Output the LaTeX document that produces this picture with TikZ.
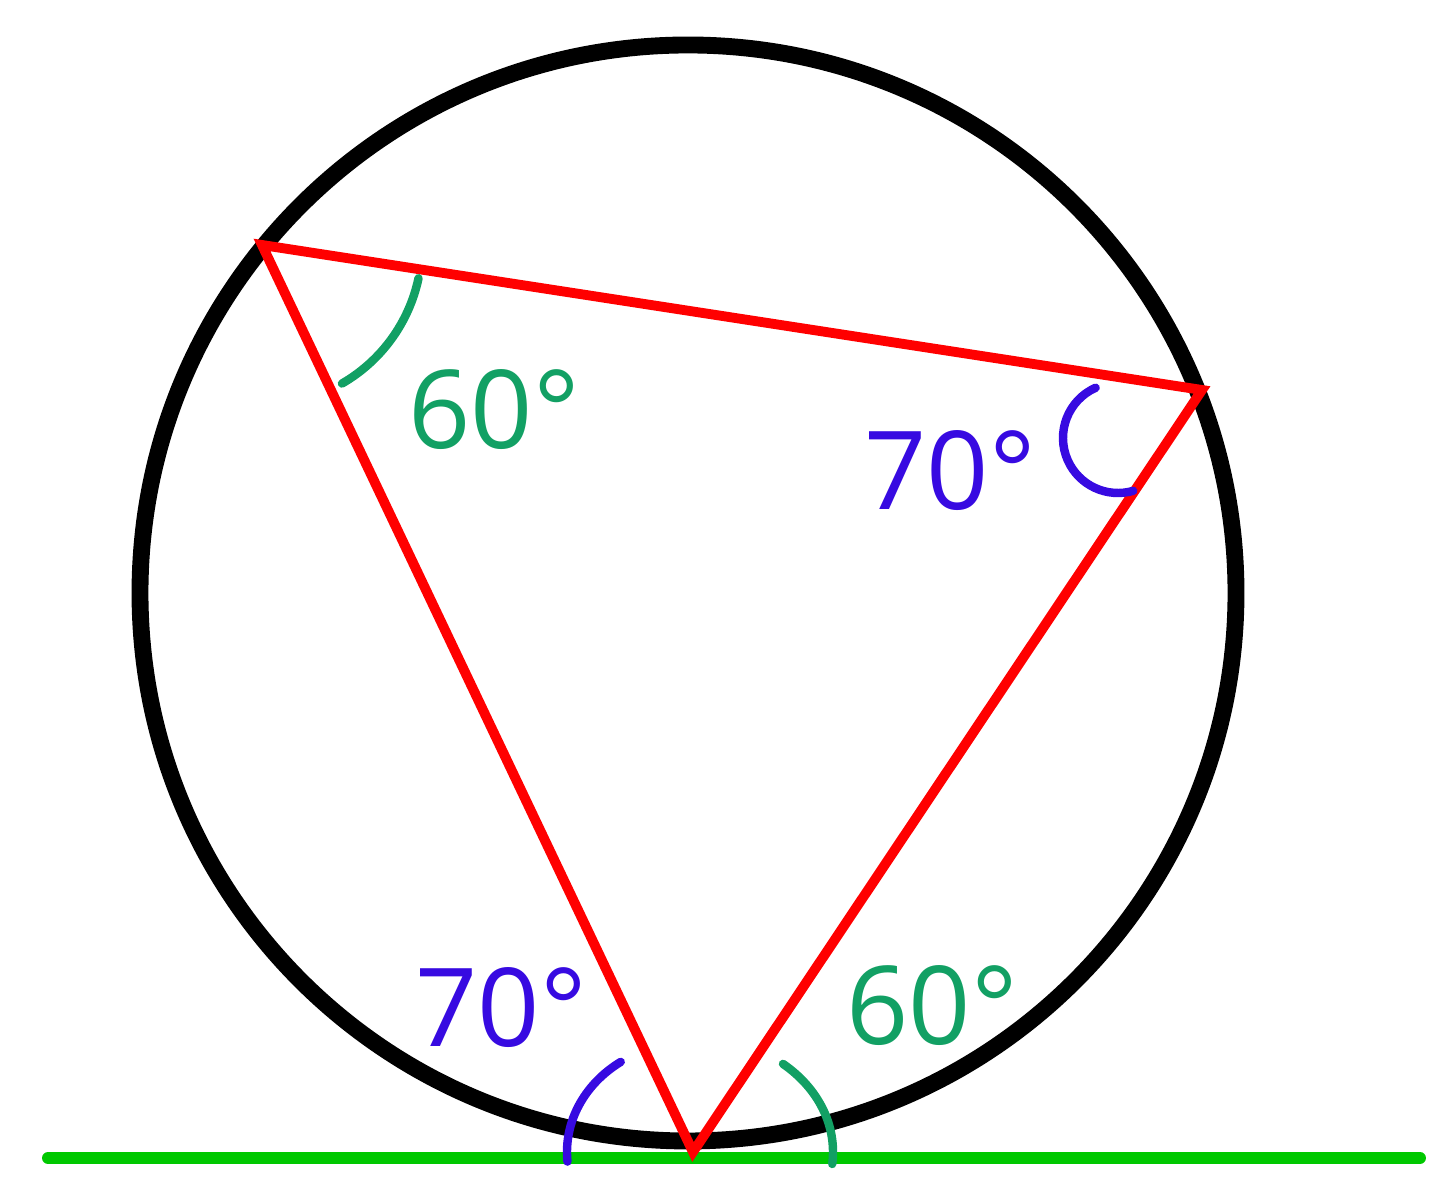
\documentclass[tikz,border=0pt]{standalone}
\usepackage{fontspec}
\setmainfont{Open Sans}
\usepackage{tikz}
\usepackage{xcolor}
\usetikzlibrary{calc}

\definecolor{angleblue}{RGB}{55,10,225}
\definecolor{anglegreen}{RGB}{18,160,100}
\definecolor{tangentgreen}{RGB}{0,200,0}

\begin{document}
\begin{tikzpicture}[
            circle_line/.style={draw=black, line width=4.8pt},
            chord/.style={draw=red, line width=2.8pt, line join=miter},
            tangent/.style={draw=tangentgreen, line width=3.4pt, line cap=round},
            blue_arc/.style={draw=angleblue, line width=2.4pt, line cap=round},
            green_arc/.style={draw=anglegreen, line width=2.4pt, line cap=round},
            label_text/.style={font=\fontsize{31}{36}\selectfont, inner sep=0pt}
        ]
\useasboundingbox (0,0) rectangle (14.4,11.87);

% Circle and points
            \coordinate (O) at (6.88,5.94);
            \coordinate (A) at (2.62,9.42);
            \coordinate (B) at (12.02,7.97);
            \coordinate (C) at (6.93,0.35);
            \coordinate (tan_l) at (0.48,0.29);
            \coordinate (tan_r) at (14.20,0.29);
            \coordinate (B_mark) at ($(B)+(-0.84,-0.48)$);
            \draw[circle_line] (O) circle (5.48);

% Tangent line
            \draw[tangent] (tan_l) -- (tan_r);

% Inscribed triangle
            \draw[chord] (A) -- (B) -- (C) -- cycle;

% Angle marks
            \draw[green_arc] ([shift=(-12:1.6)]A) arc[start angle=-12, end angle=-60, radius=1.6];
            \draw[blue_arc] ([shift=(114:0.55)]B_mark) arc[start angle=114, end angle=286, radius=0.55];
            \draw[blue_arc] ($(C)+(125:1.26 and 1.1)$) arc[start angle=125, end angle=185, x radius=1.26, y radius=1.1];
            \draw[green_arc] ($(C)+(50:1.4 and 1.15)$) arc[start angle=50, end angle=-6, x radius=1.4, y radius=1.15];

% Angle labels
            \node[label_text, text=anglegreen] (lbl_a) at (4.94,7.77) {60°};
            \node[label_text, text=angleblue] (lbl_b) at (9.50,7.16) {70°};
            \node[label_text, text=angleblue] (lbl_cl) at (5.01,1.79) {70°};
            \node[label_text, text=anglegreen] (lbl_cr) at (9.32,1.81) {60°};

        \end{tikzpicture}
\end{document}
